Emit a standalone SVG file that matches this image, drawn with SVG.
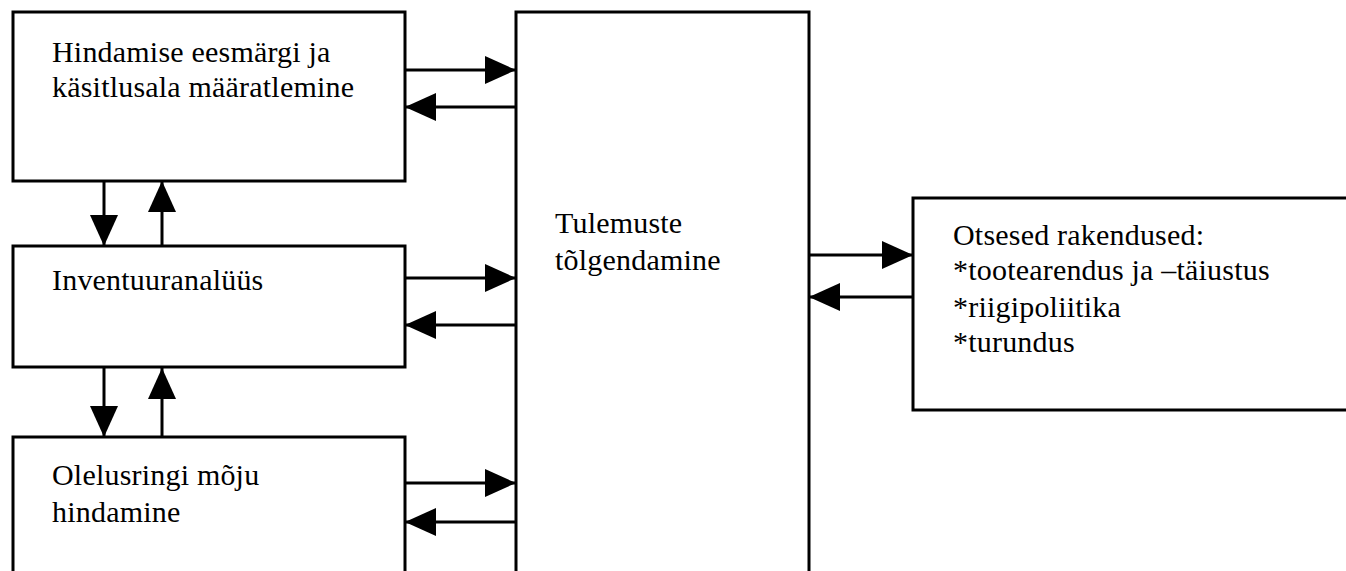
<svg xmlns="http://www.w3.org/2000/svg" width="1346" height="571" viewBox="0 0 1346 571">
<defs>
<marker id="ah" markerUnits="userSpaceOnUse" markerWidth="31" markerHeight="28" refX="31" refY="14" orient="auto" viewBox="0 0 31 28">
<path d="M0,0 L31,14 L0,28 z" fill="#000"/>
</marker>
</defs>
<style>
.box{fill:#fff;stroke:#000;stroke-width:3}
.lbl{font-family:"Liberation Serif","Times New Roman",serif;font-size:30px;letter-spacing:0.2px;fill:#000}
.con line{stroke:#000;stroke-width:3;marker-end:url(#ah)}
</style>
<rect width="1346" height="571" fill="#fff"/>
<g id="n1"><rect class="box" x="13" y="12" width="392" height="169"/>
<text class="lbl" x="52" y="62">Hindamise eesmärgi ja</text>
<text class="lbl" x="52" y="97">käsitlusala määratlemine</text></g>
<g id="n2"><rect class="box" x="13" y="246" width="392" height="121"/>
<text class="lbl" x="52" y="290">Inventuuranalüüs</text></g>
<g id="n3"><rect class="box" x="13" y="437" width="392" height="160"/>
<text class="lbl" x="52" y="485">Olelusringi mõju</text>
<text class="lbl" x="52" y="522">hindamine</text></g>
<g id="n4"><rect class="box" x="516" y="12" width="293" height="600"/>
<text class="lbl" x="555" y="233">Tulemuste</text>
<text class="lbl" x="555" y="270">tõlgendamine</text></g>
<g id="n5"><rect class="box" x="913" y="198" width="460" height="212"/>
<text class="lbl" x="953" y="245">Otsesed rakendused:</text>
<text class="lbl" x="953" y="280">*tootearendus ja –täiustus</text>
<text class="lbl" x="953" y="317">*riigipoliitika</text>
<text class="lbl" x="953" y="352">*turundus</text></g>
<g id="connectors" class="con">
<line x1="405" y1="70" x2="516" y2="70"/>
<line x1="516" y1="107" x2="405" y2="107"/>
<line x1="104" y1="181" x2="104" y2="246"/>
<line x1="162" y1="246" x2="162" y2="181"/>
<line x1="405" y1="278" x2="516" y2="278"/>
<line x1="516" y1="325" x2="405" y2="325"/>
<line x1="104" y1="367" x2="104" y2="437"/>
<line x1="162" y1="437" x2="162" y2="368"/>
<line x1="405" y1="483" x2="516" y2="483"/>
<line x1="516" y1="522" x2="405" y2="522"/>
<line x1="809" y1="255" x2="913" y2="255"/>
<line x1="913" y1="297" x2="809" y2="297"/>
</g>
</svg>
